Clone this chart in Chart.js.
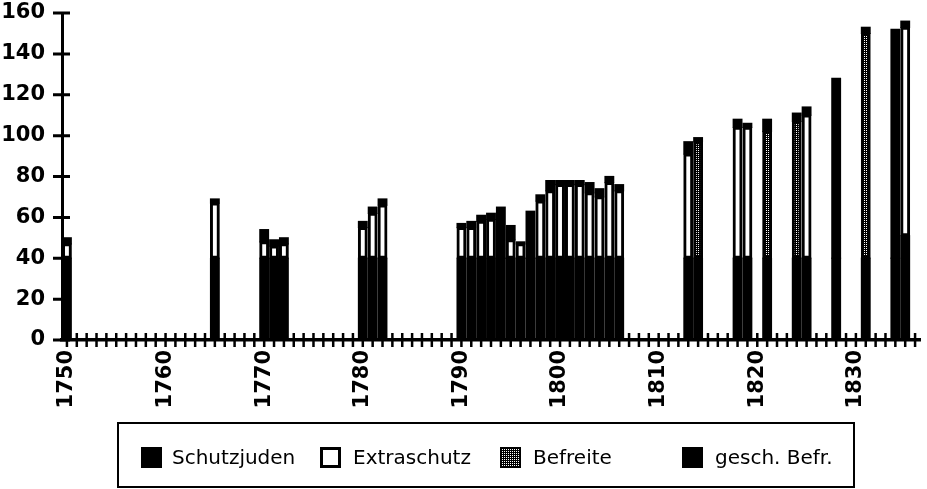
<!DOCTYPE html>
<html lang="de">
<head>
<meta charset="utf-8">
<title>Schutzjuden 1750–1835</title>
<script src="https://cdn.jsdelivr.net/npm/chart.js@4.4.1/dist/chart.umd.min.js"></script>
<style>
  html, body { margin: 0; padding: 0; background: #fff; }
  #wrap { position: relative; width: 927px; height: 489px; overflow: hidden; background: #fff; }
  #chart { position: absolute; left: 0; top: 0; }
  #legend { position: absolute; left: 117px; top: 422px; width: 738px; height: 66px; box-sizing: border-box;
            border: 2px solid #000; font-family: "DejaVu Sans", sans-serif; font-size: 20px; color: #000; }
  .sw { position: absolute; top: 23px; width: 21px; height: 21px; box-sizing: border-box; }
  .lb { position: absolute; top: 19px; line-height: 28px; white-space: nowrap; }
</style>
</head>
<body>
<div id="wrap">
  <canvas id="chart" width="927" height="489"></canvas>
  <div id="legend"></div>
</div>
<script>
// ---- data ----
const years        = [1750,1765,1770,1771,1772,1780,1781,1782,1790,1791,1792,1793,1794,1795,1796,1797,1798,1799,1800,1801,1802,1803,1804,1805,1806,1813,1814,1818,1819,1821,1824,1825,1828,1831,1834,1835];
const schutzjuden  = [  40,  40,  40,  40,  40,  40,  40,  40,  40,  40,  40,  40,  40,  40,  40,  40,  40,  40,  40,  40,  40,  40,  40,  40,  40,  40,  40,  40,  40,  40,  40,  40,  40,  40,  40,  51];
const extraschutz  = [   7,  27,   8,   6,   7,  15,  22,  26,  15,  15,  18,  19,   0,   9,   7,   0,  28,  33,  36,  36,  36,  32,  30,  37,  33,  51,   0,  64,  64,   0,   0,  70,   0,   0,   0, 102];
const befreite     = [   0,   0,   0,   0,   0,   0,   0,   0,   0,   0,   0,   0,   0,   0,   0,   0,   0,   0,   0,   0,   0,   0,   0,   0,   0,   0,  57,   0,   0,  62,  67,   0,   0, 110,   0,   0];
const geschBefr    = [   3,   2,   6,   3,   3,   3,   3,   3,   2,   3,   3,   3,  25,   7,   1,  23,   3,   5,   2,   2,   2,   5,   4,   3,   3,   6,   2,   4,   2,   6,   4,   4,  88,   3, 112,   3];
const seriesNames  = ['Schutzjuden', 'Extraschutz', 'Befreite', 'gesch. Befr.'];
const yearMin = 1750, yearMax = 1836, labelEvery = 10;
const yTicks = [0, 20, 40, 60, 80, 100, 120, 140, 160];

// ---- styles ----
function makeDotPattern() {
  const c = document.createElement('canvas');
  c.width = 2; c.height = 2;
  const g = c.getContext('2d');
  g.fillStyle = '#000'; g.fillRect(0, 0, 2, 2);
  g.fillStyle = '#fff'; g.fillRect(0, 0, 1, 1);
  return c;
}
const patCanvas = makeDotPattern();
const mainCtx = document.getElementById('chart').getContext('2d');
const dotPattern = mainCtx.createPattern(patCanvas, 'repeat');

const seriesStyle = [
  { backgroundColor: '#000', borderColor: '#000', borderWidth: 0 },
  { backgroundColor: '#fff', borderColor: '#000', borderWidth: 3 },
  { backgroundColor: dotPattern, borderColor: '#000', borderWidth: 3 },
  { backgroundColor: '#000', borderColor: '#000', borderWidth: 0 }
];
const seriesValues = [schutzjuden, extraschutz, befreite, geschBefr];

const datasets = seriesValues.map((vals, k) => Object.assign({
  label: seriesNames[k],
  data: years.map((yr, i) => ({ x: yr, y: vals[i] ? vals[i] : null })),
  stack: 'all',
  borderSkipped: false,
  barPercentage: 0.88,
  categoryPercentage: 1.0,
  inflateAmount: 0.6,
  clip: false
}, seriesStyle[k]));

// crossing tick marks on both axes
const crossTicks = {
  id: 'crossTicks',
  afterDatasetsDraw(chart) {
    const { ctx, scales: { x, y } } = chart;
    ctx.save();
    ctx.strokeStyle = '#000';
    ctx.lineWidth = 2.5;
    ctx.beginPath();
    x.ticks.forEach(t => {
      const px = x.getPixelForValue(t.value);
      ctx.moveTo(px, x.top - 7);
      ctx.lineTo(px, x.top + 7);
    });
    ctx.stroke();
    ctx.lineWidth = 3;
    ctx.beginPath();
    y.ticks.forEach(t => {
      const py = y.getPixelForValue(t.value);
      ctx.moveTo(y.right - 9, py);
      ctx.lineTo(y.right + 8, py);
    });
    ctx.stroke();
    ctx.restore();
  }
};

const axisFont = { family: 'DejaVu Sans', size: 21, weight: 'bold' };

new Chart(mainCtx, {
  type: 'bar',
  data: { datasets },
  options: {
    responsive: false,
    animation: false,
    events: [],
    layout: { padding: { left: 0, right: 7, top: 13, bottom: 0 } },
    plugins: { legend: { display: false }, tooltip: { enabled: false } },
    scales: {
      x: {
        type: 'linear',
        min: yearMin,
        max: yearMax,
        grid: { display: false, drawTicks: false },
        border: { display: true, width: 3.5, color: '#000' },
        ticks: {
          stepSize: 1,
          autoSkip: false,
          maxRotation: 90,
          minRotation: 90,
          padding: 10,
          color: '#000',
          font: axisFont,
          callback: v => (v % labelEvery === 0 && v < yearMax) ? String(v) : ''
        },
        afterFit(s) { s.height = 149; s.paddingLeft = 0; s.paddingRight = 0; }
      },
      y: {
        stacked: true,
        min: 0,
        max: 160,
        grid: { display: false, drawTicks: false },
        border: { display: true, width: 3, color: '#000' },
        afterBuildTicks(s) { s.ticks = yTicks.map(v => ({ value: v })); },
        ticks: { padding: 17, color: '#000', font: axisFont },
        afterFit(s) { s.width = 62; s.paddingTop = 0; s.paddingBottom = 0; }
      }
    }
  },
  plugins: [crossTicks]
});

// ---- legend (real text) ----
const legend = document.getElementById('legend');
const swatchX = [22, 201, 381, 563];
const labelX  = [53, 234, 414, 596];
seriesNames.forEach((name, k) => {
  let sw;
  if (k === 2) {
    sw = document.createElement('canvas');
    sw.width = 21; sw.height = 21;
    const g = sw.getContext('2d');
    g.fillStyle = g.createPattern(patCanvas, 'repeat');
    g.fillRect(0, 0, 21, 21);
    g.strokeStyle = '#000'; g.lineWidth = 2;
    g.strokeRect(1, 1, 19, 19);
  } else {
    sw = document.createElement('div');
    if (k === 1) { sw.style.background = '#fff'; sw.style.border = '3px solid #000'; }
    else { sw.style.background = '#000'; }
  }
  sw.className = 'sw';
  sw.style.left = swatchX[k] + 'px';
  legend.appendChild(sw);
  const lb = document.createElement('span');
  lb.className = 'lb';
  lb.style.left = labelX[k] + 'px';
  lb.textContent = name;
  legend.appendChild(lb);
});
</script>
</body>
</html>
